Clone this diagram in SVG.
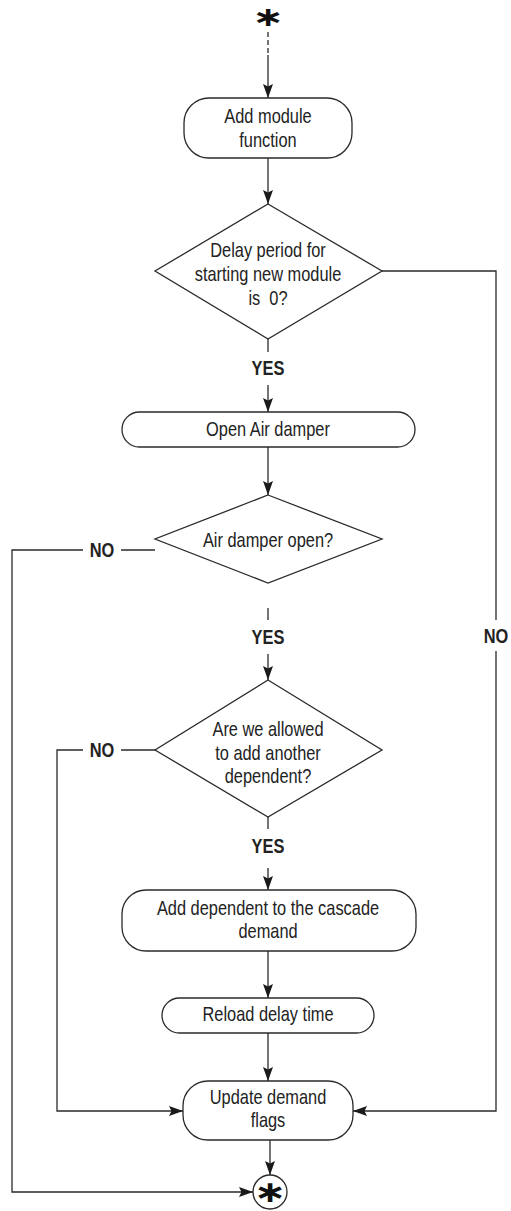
<svg xmlns="http://www.w3.org/2000/svg" width="511" height="1211" viewBox="0 0 511 1211">
<style>
.shape{fill:#fff;stroke:#2a2a2a;stroke-width:1.3}
.ln{fill:none;stroke:#2a2a2a;stroke-width:1.3}
.t{font-family:"Liberation Sans",Arial,sans-serif;font-size:20px;fill:#222;text-anchor:middle}
.b{font-weight:bold}
.ast{font-family:"DejaVu Sans","Liberation Sans",sans-serif;font-weight:bold;font-size:30px;fill:#111;text-anchor:middle}
</style>
<defs>
<marker id="ah" viewBox="-15 -6 16 12" refX="0" refY="0" markerWidth="16" markerHeight="12" markerUnits="userSpaceOnUse" orient="auto">
<path d="M0,0 L-14,-5 L-11.5,0 L-14,5 Z" fill="#1a1a1a"/>
</marker>
</defs>
<g id="connectors">
<line class="ln" x1="268" y1="32" x2="268" y2="55" stroke-dasharray="5,3"/>
<line class="ln" x1="268" y1="55" x2="268" y2="98" marker-end="url(#ah)"/>
<line class="ln" x1="268" y1="158" x2="268" y2="204" marker-end="url(#ah)"/>
<line class="ln" x1="268" y1="339" x2="268" y2="352"/>
<text class="t b" transform="translate(268,375) scale(0.82,1)">YES</text>
<line class="ln" x1="268" y1="385" x2="268" y2="412" marker-end="url(#ah)"/>
<line class="ln" x1="268" y1="447" x2="268" y2="495" marker-end="url(#ah)"/>
<line class="ln" x1="268" y1="608" x2="268" y2="620"/>
<text class="t b" transform="translate(268,644) scale(0.82,1)">YES</text>
<line class="ln" x1="268" y1="654" x2="268" y2="680" marker-end="url(#ah)"/>
<line class="ln" x1="268" y1="817" x2="268" y2="829"/>
<text class="t b" transform="translate(268,853) scale(0.82,1)">YES</text>
<line class="ln" x1="268" y1="868" x2="268" y2="890" marker-end="url(#ah)"/>
<line class="ln" x1="268" y1="951" x2="268" y2="998" marker-end="url(#ah)"/>
<line class="ln" x1="268" y1="1033" x2="268" y2="1081" marker-end="url(#ah)"/>
<line class="ln" x1="270" y1="1140" x2="270" y2="1175" marker-end="url(#ah)"/>
<polyline class="ln" points="382,271 496,271 496,620"/>
<text class="t b" transform="translate(496,643) scale(0.82,1)">NO</text>
<polyline class="ln" points="496,651 496,1111 353,1111" marker-end="url(#ah)"/>
<line class="ln" x1="155" y1="550" x2="121" y2="550"/>
<text class="t b" transform="translate(102,557) scale(0.82,1)">NO</text>
<polyline class="ln" points="83,550 12,550 12,1192 253,1192" marker-end="url(#ah)"/>
<line class="ln" x1="155" y1="750" x2="121" y2="750"/>
<text class="t b" transform="translate(102,757) scale(0.82,1)">NO</text>
<polyline class="ln" points="83,750 57,750 57,1111 183,1111" marker-end="url(#ah)"/>
</g>
<g id="start">
<text class="ast" style="font-size:27px" transform="translate(268,25.5) scale(1.4,1)">∗</text>
</g>
<g id="add-module">
<rect class="shape" x="184" y="98" width="168" height="60" rx="25"/>
<text class="t" transform="translate(268,123) scale(0.82,1)">Add module</text>
<text class="t" transform="translate(268,147) scale(0.82,1)">function</text>
</g>
<g id="delay-zero">
<polygon class="shape" points="268,204 382,271 268,339 155,271"/>
<text class="t" transform="translate(268,257) scale(0.82,1)">Delay period for</text>
<text class="t" transform="translate(268,281) scale(0.82,1)">starting new module</text>
<text class="t" transform="translate(268,305) scale(0.82,1)" xml:space="preserve">is  0?</text>
</g>
<g id="open-air-damper">
<rect class="shape" x="122" y="412" width="293" height="35" rx="17.5"/>
<text class="t" transform="translate(268,436) scale(0.82,1)">Open Air damper</text>
</g>
<g id="damper-open">
<polygon class="shape" points="268,495 382,539 268,583 155,539"/>
<text class="t" transform="translate(268,547) scale(0.82,1)">Air damper open?</text>
</g>
<g id="allowed-add">
<polygon class="shape" points="268,680 382,750 268,817 155,750"/>
<text class="t" transform="translate(268,736) scale(0.82,1)">Are we allowed</text>
<text class="t" transform="translate(268,760) scale(0.82,1)">to add another</text>
<text class="t" transform="translate(268,783) scale(0.82,1)">dependent?</text>
</g>
<g id="add-dependent">
<rect class="shape" x="122" y="890" width="294" height="61" rx="24"/>
<text class="t" transform="translate(268,915) scale(0.82,1)">Add dependent to the cascade</text>
<text class="t" transform="translate(268,938) scale(0.82,1)">demand</text>
</g>
<g id="reload-delay">
<rect class="shape" x="162" y="998" width="212" height="35" rx="17.5"/>
<text class="t" transform="translate(268,1021) scale(0.82,1)">Reload delay time</text>
</g>
<g id="update-flags">
<rect class="shape" x="183" y="1081" width="170" height="59" rx="25"/>
<text class="t" transform="translate(268,1104) scale(0.82,1)">Update demand</text>
<text class="t" transform="translate(268,1127) scale(0.82,1)">flags</text>
</g>
<g id="end">
<circle class="shape" cx="270" cy="1192" r="17"/>
<text class="ast" transform="translate(270,1202) scale(1.3,1)">∗</text>
</g>
</svg>
